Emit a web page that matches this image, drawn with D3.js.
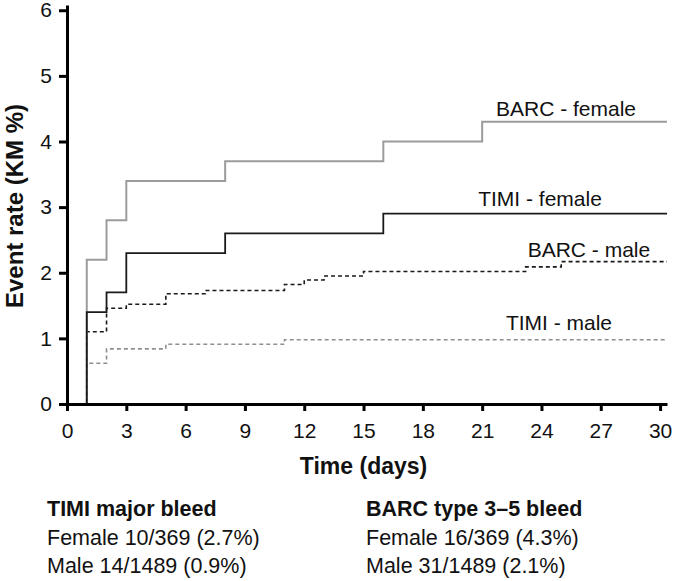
<!DOCTYPE html>
<html>
<head>
<meta charset="utf-8">
<script src="https://cdn.jsdelivr.net/npm/d3@7"></script>
<style>
  html, body { margin: 0; padding: 0; background: #fff; }
  svg { display: block; font-family: "Liberation Sans", Arial, Helvetica, sans-serif; }
</style>
</head>
<body>
<svg id="chart" width="674" height="581"></svg>
<script>
// ---- data ----
const followUpEnd = 30.35;
const xTicks = [0, 3, 6, 9, 12, 15, 18, 21, 24, 27, 30];
const yTicks = [0, 1, 2, 3, 4, 5, 6];

const barcFemaleT = [0, 1, 2, 3, 8, 16, 21, followUpEnd];
const barcFemaleV = [0, 2.2, 2.8, 3.4, 3.7, 4.0, 4.3, 4.3];

const timiFemaleT = [0, 1, 2, 3, 8, 16, followUpEnd];
const timiFemaleV = [0, 1.4, 1.7, 2.3, 2.6, 2.9, 2.9];

const barcMaleT = [0, 1, 2, 3, 5, 7, 11, 12, 13, 15, 23.2, 25, followUpEnd];
const barcMaleV = [0, 1.1, 1.46, 1.52, 1.68, 1.73, 1.82, 1.89, 1.95, 2.02, 2.09, 2.17, 2.17];

const timiMaleT = [0, 1, 2, 5, 11, followUpEnd];
const timiMaleV = [0, 0.62, 0.84, 0.91, 0.98, 0.98];

const seriesNames = ["TIMI - male", "BARC - male", "BARC - female", "TIMI - female"];

const xTitle = "Time (days)";
const yTitle = "Event rate (KM %)";
const summaryTitles = ["TIMI major bleed", "BARC type 3\u20135 bleed"];
const summaryFemale = ["Female 10/369 (2.7%)", "Female 16/369 (4.3%)"];
const summaryMale = ["Male 14/1489 (0.9%)", "Male 31/1489 (2.1%)"];

// ---- layout / style ----
const svg = d3.select("#chart");
const x = d3.scaleLinear().domain([0, followUpEnd]).range([67, 667]);
const y = d3.scaleLinear().domain([0, 6.08]).range([404, 5]);

const styles = {
  "TIMI - male":   { stroke: "#8f8f8f", dash: "4,3", width: 1.6, label: [22.2, 330] },
  "BARC - male":   { stroke: "#1a1a1a", dash: "4,3", width: 1.6, label: [23.3, 256.5] },
  "BARC - female": { stroke: "#9c9c9c", dash: null,  width: 2,   label: [21.7, 116] },
  "TIMI - female": { stroke: "#1a1a1a", dash: null,  width: 1.8, label: [20.8, 206] }
};

const seriesData = {
  "TIMI - male": [timiMaleT, timiMaleV],
  "BARC - male": [barcMaleT, barcMaleV],
  "BARC - female": [barcFemaleT, barcFemaleV],
  "TIMI - female": [timiFemaleT, timiFemaleV]
};

const line = d3.line()
  .x(d => x(d[0]))
  .y(d => y(d[1]))
  .curve(d3.curveStepAfter);

seriesNames.forEach(name => {
  const [ts, vs] = seriesData[name];
  const pts = ts.map((t, i) => [t, vs[i]]);
  const st = styles[name];
  svg.append("path")
    .datum(pts)
    .attr("d", line)
    .attr("fill", "none")
    .attr("stroke", st.stroke)
    .attr("stroke-width", st.width)
    .attr("stroke-dasharray", st.dash);
});

// series labels
seriesNames.forEach(name => {
  const st = styles[name];
  svg.append("text")
    .attr("x", x(st.label[0]))
    .attr("y", st.label[1])
    .attr("font-size", 21)
    .attr("fill", "#111")
    .text(name);
});

// axes
const xAxis = svg.append("g")
  .attr("transform", `translate(0,${y(0)})`)
  .call(d3.axisBottom(x).tickValues(xTicks).tickSize(7).tickSizeOuter(0).tickPadding(12).tickFormat(d3.format("d")));
const yAxis = svg.append("g")
  .attr("transform", `translate(${x(0)},0)`)
  .call(d3.axisLeft(y).tickValues(yTicks).tickSize(8).tickSizeOuter(0).tickPadding(7).tickFormat(d3.format("d")));

[xAxis, yAxis].forEach(g => {
  g.select(".domain").attr("stroke", "#000").attr("stroke-width", 3);
  g.selectAll(".tick line").attr("stroke", "#000").attr("stroke-width", 3);
  g.selectAll(".tick text").attr("font-size", 21).attr("fill", "#111")
    .attr("font-family", "'Liberation Sans', Arial, Helvetica, sans-serif");
});

// axis titles
svg.append("text")
  .attr("x", (x(0) + x(30)) / 2)
  .attr("y", 474)
  .attr("text-anchor", "middle")
  .attr("font-size", 23)
  .attr("font-weight", "bold")
  .attr("fill", "#111")
  .text(xTitle);

svg.append("text")
  .attr("transform", "translate(23,206) rotate(-90)")
  .attr("text-anchor", "middle")
  .attr("font-size", 24)
  .attr("font-weight", "bold")
  .attr("fill", "#111")
  .text(yTitle);

// summary block
const colX = [47, 366];
const rowY = [516, 545, 573];
summaryTitles.forEach((t, i) => {
  svg.append("text").attr("x", colX[i]).attr("y", rowY[0])
    .attr("font-size", 21.5).attr("font-weight", "bold").attr("fill", "#111").text(t);
  svg.append("text").attr("x", colX[i]).attr("y", rowY[1])
    .attr("font-size", 21.5).attr("fill", "#111").text(summaryFemale[i]);
  svg.append("text").attr("x", colX[i]).attr("y", rowY[2])
    .attr("font-size", 21.5).attr("fill", "#111").text(summaryMale[i]);
});
</script>
</body>
</html>
